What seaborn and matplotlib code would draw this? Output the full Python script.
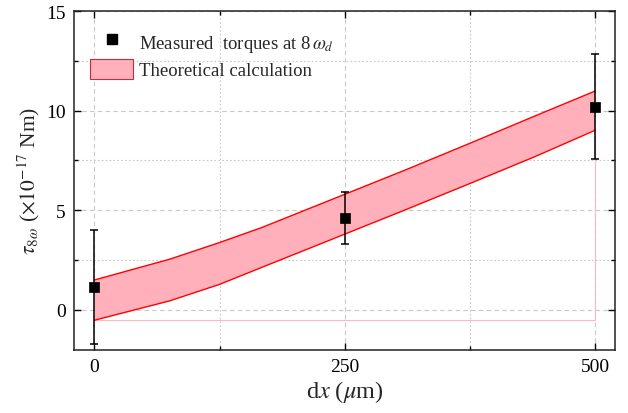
import matplotlib
matplotlib.use("Agg")
import matplotlib.pyplot as plt
import numpy as np
import pandas as pd
import seaborn as sns
from matplotlib.patches import Patch
from matplotlib.lines import Line2D
from matplotlib.ticker import MultipleLocator

# Measured torques (x = displacement in um, y in 1e-17 Nm)
dx_meas = [0, 250, 500]
tau_meas = [1.15, 4.6, 10.2]
tau_err = [2.85, 1.3, 2.65]

# Theoretical band (upper / lower bounds)
dx_theory = [0, 75, 125, 167, 250, 312, 375, 440, 500]
tau_upper = [1.50, 2.54, 3.38, 4.13, 5.80, 7.05, 8.36, 9.73, 10.98]
tau_lower = [-0.52, 0.45, 1.28, 2.13, 3.80, 5.05, 6.34, 7.69, 9.01]

x_ticks = [0, 250, 500]
y_ticks = [0, 5, 10, 15]

meas = pd.DataFrame({"dx": dx_meas, "tau": tau_meas, "err": tau_err})
theory = pd.DataFrame({"dx": dx_theory, "upper": tau_upper, "lower": tau_lower})

sns.set_style("ticks")
plt.rcParams["font.family"] = ["Liberation Serif", "DejaVu Serif"]
plt.rcParams["mathtext.fontset"] = "stix"

fig = plt.figure(figsize=(6.28, 4.14), dpi=100)
ax = fig.add_axes([0.1178, 0.1529, 0.9793 - 0.1178, 0.971 - 0.1529])

band_face = "#ffb0ba"
ax.fill_between(theory["dx"], theory["lower"], theory["upper"],
                facecolor=band_face, edgecolor="none", zorder=2)
# outline of the filled region along its base
ax.plot([dx_theory[0], dx_theory[-1], dx_theory[-1]],
        [tau_lower[0], tau_lower[0], tau_lower[-1]],
        color="#ffb8c0", lw=0.8, zorder=1.5)
sns.lineplot(data=theory, x="dx", y="upper", color="red", lw=1.0,
             estimator=None, sort=False, ax=ax, zorder=3)
sns.lineplot(data=theory, x="dx", y="lower", color="red", lw=1.0,
             estimator=None, sort=False, ax=ax, zorder=3)

ax.errorbar(meas["dx"], meas["tau"], yerr=meas["err"], fmt="none",
            ecolor="black", elinewidth=1.1, capsize=3.2, capthick=1.1,
            zorder=4)
sns.scatterplot(data=meas, x="dx", y="tau", marker="s", s=62, color="black",
                edgecolor="black", linewidth=0.5, ax=ax, zorder=5)

ax.set_xlim(-20.5, 520)
ax.set_ylim(-2.0, 15)
ax.xaxis.set_major_locator(MultipleLocator(250))
ax.xaxis.set_minor_locator(MultipleLocator(125))
ax.yaxis.set_major_locator(MultipleLocator(5))
ax.yaxis.set_minor_locator(MultipleLocator(2.5))
ax.set_xticks(x_ticks)
ax.set_yticks(y_ticks)

ax.grid(True, which="major", color="#c8c8c8", lw=0.8, ls=(0, (4, 3)), zorder=0)
ax.grid(True, which="minor", color="#c8c8c8", lw=0.8, ls=(0, (1.5, 2)), zorder=0)
ax.set_axisbelow(True)

ax.tick_params(which="both", direction="in", top=True, right=True,
               labelsize=14, width=1.0, colors="black", pad=6)
ax.tick_params(which="major", length=5)
ax.tick_params(which="minor", length=3)
for sp in ax.spines.values():
    sp.set_linewidth(1.1)
    sp.set_color("#222222")

ax.set_xlabel(r"d$x$ ($\mu$m)", fontsize=17.5)
ax.set_ylabel(r"$\tau_{8\omega}$ ($\times10^{-17}$ Nm)", fontsize=15.5)
ax.xaxis.set_label_coords(0.5, -0.085)
ax.yaxis.set_label_coords(-0.06, 0.5)

handles = [
    Line2D([], [], marker="s", color="black", ls="none", markersize=7.2),
    Patch(facecolor=band_face, edgecolor="#c03040", linewidth=0.8),
]
labels = [r"Measured  torques at 8$\,\omega_d$", "Theoretical calculation"]
ax.legend(handles, labels, loc="upper left", bbox_to_anchor=(0.03, 0.94),
          frameon=False, fontsize=13.5, borderpad=0, borderaxespad=0,
          handlelength=2.3, handleheight=1.25, handletextpad=0.3,
          labelspacing=0.3)

fig.savefig("out.png", dpi=100)
